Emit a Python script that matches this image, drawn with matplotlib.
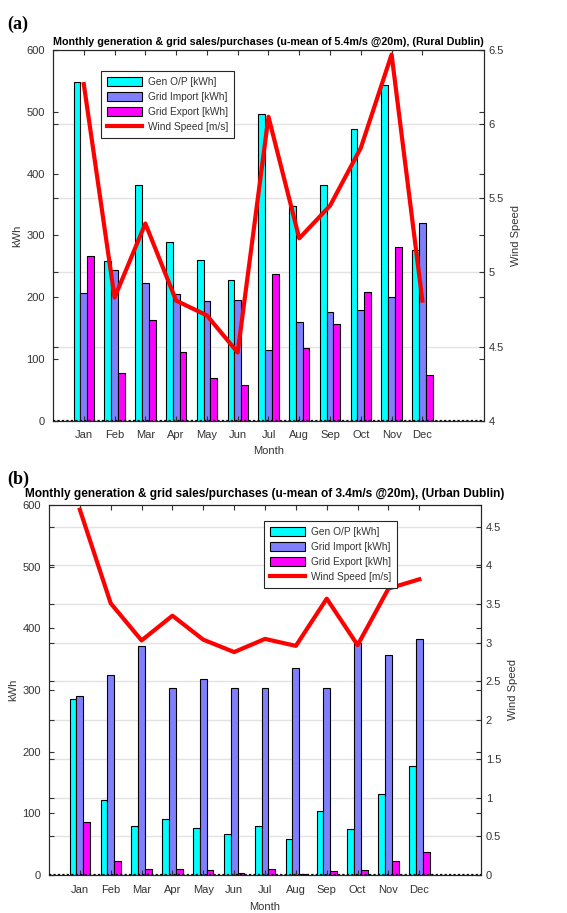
"""Monthly generation and grid import/export, rural vs urban Dublin."""

import matplotlib

matplotlib.use("Agg")
import matplotlib.pyplot as plt
import numpy as np

months = ["Jan", "Feb", "Mar", "Apr", "May", "Jun", "Jul", "Aug", "Sep", "Oct", "Nov", "Dec"]

rural_gen = [548, 259, 381, 290, 260, 228, 496, 347, 381, 472, 543, 276]
rural_import = [207, 244, 223, 205, 194, 196, 114, 160, 176, 179, 201, 320]
rural_export = [267, 78, 163, 112, 69, 57, 237, 117, 157, 209, 281, 74]
rural_wind = [6.27, 4.83, 5.33, 4.81, 4.71, 4.46, 6.05, 5.23, 5.45, 5.84, 6.47, 4.81]

urban_gen = [286, 121, 80, 91, 76, 66, 80, 59, 104, 75, 132, 177]
urban_import = [290, 325, 371, 303, 318, 304, 304, 335, 304, 376, 356, 383]
urban_export = [86, 22, 9, 9, 8, 3, 9, 1.5, 7, 8, 22, 38]
urban_wind = [4.72, 3.51, 3.03, 3.35, 3.04, 2.88, 3.05, 2.96, 3.57, 2.97, 3.70, 3.82]

TXT = "#333333"
plt.rcParams["font.family"] = ["Liberation Sans", "DejaVu Sans"]
plt.rcParams["font.size"] = 8


def _panel(fig, rect, gen, imp, exp, wind, wind_lim, wind_ticks, title, title_size, title_pad,
           tag, legend_anchor, month_pad):
    ax = fig.add_axes(rect)
    ax2 = ax.twinx()
    # bars axis sits on top, wind axis (with grid) behind it
    ax2.set_zorder(0)
    ax.set_zorder(1)
    ax.patch.set_visible(False)
    ax2.patch.set_visible(True)
    ax2.patch.set_facecolor("white")

    x = np.arange(1, len(months) + 1)
    w = 0.22
    ax.bar(x - w, gen, w, color="#00ffff", edgecolor="black", linewidth=0.8, label="Gen O/P [kWh]")
    ax.bar(x, imp, w, color="#8080ff", edgecolor="black", linewidth=0.8, label="Grid Import [kWh]")
    ax.bar(x + w, exp, w, color="#ff00ff", edgecolor="black", linewidth=0.8, label="Grid Export [kWh]")
    ax.axhline(0, color="black", linestyle=(0, (1, 1)), linewidth=1.6, zorder=3)
    ax.plot(x, wind, color="red", linewidth=3, transform=ax2.transData,
            label="Wind Speed [m/s]", zorder=4)

    ax.set_xlim(0, 14)
    ax.set_ylim(0, 600)
    ax.set_yticks(range(0, 601, 100))
    ax.set_xticks(x)
    ax.set_xticklabels(months)
    ax2.set_ylim(*wind_lim)
    ax2.set_yticks(wind_ticks)
    ax2.set_yticklabels([f"{t:g}" for t in wind_ticks])
    ax2.yaxis.grid(True, color="#e3e3e3", linewidth=1)
    ax2.set_axisbelow(True)

    ax.tick_params(axis="x", direction="in", length=3.5, colors=TXT, labelcolor=TXT,
                   top=True, pad=7)
    ax.tick_params(axis="y", direction="in", length=3.5, colors=TXT, labelcolor=TXT,
                   right=True, left=True, pad=6)
    ax2.tick_params(axis="y", direction="in", length=3.5, colors=TXT, labelcolor=TXT,
                    left=True, right=True, pad=3.5)
    for a in (ax, ax2):
        for s in a.spines.values():
            s.set_color("#262626")
            s.set_linewidth(0.8)

    ax.set_xlabel("Month", color=TXT, labelpad=month_pad)
    ax.set_ylabel("kWh", color=TXT, labelpad=2.5)
    ax2.set_ylabel("Wind Speed", color=TXT, labelpad=5)
    ax.set_title(title, fontsize=title_size, fontweight="bold", pad=title_pad)

    handles, labels = ax.get_legend_handles_labels()
    order = [1, 2, 3, 0] if labels[0].startswith("Wind") else [0, 1, 2, 3]
    leg = ax.legend([handles[i] for i in order], [labels[i] for i in order],
                    loc="upper left", bbox_to_anchor=legend_anchor, fancybox=False,
                    handlelength=3.5, handleheight=1.0, borderpad=0.55, labelspacing=0.5,
                    handletextpad=0.6, fontsize=7.3, framealpha=1)
    leg.get_frame().set_edgecolor("#262626")
    leg.get_frame().set_linewidth(0.8)
    for t in leg.get_texts():
        t.set_color(TXT)

    fig.text(0.012, rect[1] + rect[3] + 0.019, tag, fontsize=13, fontweight="bold",
             family=["Liberation Serif", "DejaVu Serif"], va="bottom")
    return ax


fig = plt.figure(figsize=(5.67, 9.13), dpi=100)
_panel(fig, [0.0935, 0.5392, 0.760, 0.406], rural_gen, rural_import, rural_export, rural_wind,
       (4, 6.5), [4, 4.5, 5, 5.5, 6, 6.5],
       "Monthly generation & grid sales/purchases (u-mean of 5.4m/s @20m), (Rural Dublin)", 7.75, 4,
       "(a)", (0.1, 0.956), 4)
_panel(fig, [0.0864, 0.0416, 0.762, 0.4053], urban_gen, urban_import, urban_export, urban_wind,
       (0, 4.78), [0, 0.5, 1, 1.5, 2, 2.5, 3, 3.5, 4, 4.5],
       "Monthly generation & grid sales/purchases (u-mean of 3.4m/s @20m), (Urban Dublin)", 8.6, 6,
       "(b)", (0.486, 0.97), 5.5)
fig.savefig("out.png", dpi=100)
